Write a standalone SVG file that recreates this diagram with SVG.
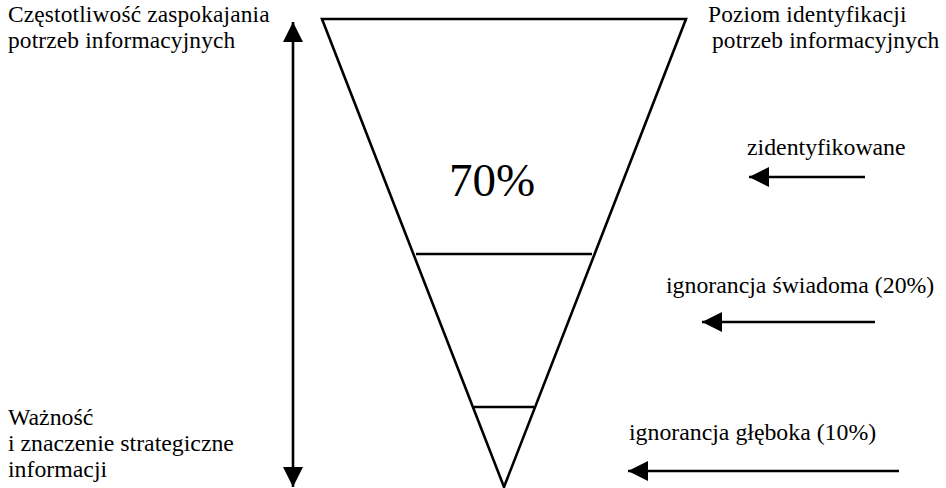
<svg xmlns="http://www.w3.org/2000/svg" width="946" height="488" viewBox="0 0 946 488">
<style>
text{font-family:"Liberation Serif","Times New Roman",serif;font-size:23.8px;fill:#000}
.hd{font-size:23.4px;letter-spacing:0.15px}
.big{font-size:47px}
.ln{stroke:#000;stroke-width:2.6;fill:none}
</style>
<defs>
<marker id="ah" viewBox="0 0 20 20" refX="20" refY="10" markerWidth="20" markerHeight="20" markerUnits="userSpaceOnUse" orient="auto">
<path d="M0,0 L20,10 L0,20 Z" fill="#000"/>
</marker>
</defs>
<rect width="946" height="488" fill="#fff"/>
<g id="funnel">
<path class="ln" d="M322,19 L686,19 L504,487 Z" stroke-linejoin="miter"/>
<line class="ln" x1="416" y1="254" x2="592" y2="254"/>
<line class="ln" x1="474" y1="407" x2="534" y2="407"/>
<text class="big" x="492" y="196" text-anchor="middle">70%</text>
</g>
<g id="connectors">
<line class="ln" x1="293" y1="240" x2="293" y2="22" marker-end="url(#ah)"/>
<line class="ln" x1="293" y1="240" x2="293" y2="487" marker-end="url(#ah)"/>
<line class="ln" x1="865" y1="177" x2="749" y2="177" marker-end="url(#ah)"/>
<line class="ln" x1="875" y1="322" x2="702" y2="322" marker-end="url(#ah)"/>
<line class="ln" x1="899" y1="471" x2="628" y2="471" marker-end="url(#ah)"/>
</g>
<g id="label-top-left">
<text class="hd" x="8" y="22">Częstotliwość zaspokajania</text>
<text class="hd" x="8" y="48">potrzeb informacyjnych</text>
</g>
<g id="label-top-right">
<text class="hd" x="708" y="22">Poziom identyfikacji</text>
<text class="hd" x="712" y="48">potrzeb informacyjnych</text>
</g>
<g id="label-bottom-left">
<text x="8" y="425">Ważność</text>
<text x="8" y="451">i znaczenie strategiczne</text>
<text x="8" y="477">informacji</text>
</g>
<g id="label-identified">
<text x="747" y="155">zidentyfikowane</text>
</g>
<g id="label-conscious">
<text x="666" y="293">ignorancja świadoma (20%)</text>
</g>
<g id="label-deep">
<text x="629" y="440">ignorancja głęboka (10%)</text>
</g>
</svg>
